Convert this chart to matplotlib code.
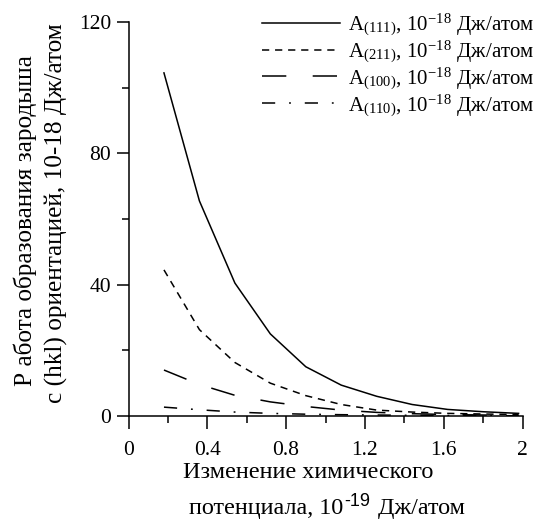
import matplotlib
matplotlib.use("Agg")
import matplotlib.pyplot as plt
from matplotlib.ticker import MultipleLocator

plt.rcParams['font.family'] = ['Liberation Serif', 'DejaVu Serif']
plt.rcParams['mathtext.fontset'] = 'stix'
plt.rcParams['lines.scale_dashes'] = False

x = [0.18, 0.36, 0.54, 0.72, 0.90, 1.08, 1.26, 1.44, 1.62, 1.80, 1.98]
a111 = [104.5, 65.5, 40.5, 25, 15, 9.4, 6.0, 3.5, 2.0, 1.3, 0.8]
a211 = [44.5, 26.3, 16.3, 10, 6.2, 3.5, 1.8, 1.2, 0.8, 0.6, 0.45]
a100 = [14, 9.6, 6.3, 4.3, 2.9, 1.8, 1.1, 0.7, 0.45, 0.3, 0.2]
a110 = [2.7, 1.9, 1.2, 0.8, 0.55, 0.4, 0.3, 0.2, 0.15, 0.1, 0.08]

labels = [r'A$_{\mathregular{(111)}}$, 10$^{\mathregular{-18}}$ Дж/атом',
          r'A$_{\mathregular{(211)}}$, 10$^{\mathregular{-18}}$ Дж/атом',
          r'A$_{\mathregular{(100)}}$, 10$^{\mathregular{-18}}$ Дж/атом',
          r'A$_{\mathregular{(110)}}$, 10$^{\mathregular{-18}}$ Дж/атом']
xticks = [0, 0.4, 0.8, 1.2, 1.6, 2.0]
xticklabels = ['0', '0.4', '0.8', '1.2', '1.6', '2']
yticks = [0, 40, 80, 120]
yticklabels = ['0', '40', '80', '120']

W, H = 538, 524
fig = plt.figure(figsize=(W / 100, H / 100), dpi=100)
L, R, T, B = 128.5, 522.5, 22, 416
ax = fig.add_axes([L / W, 1 - B / H, (R - L) / W, (B - T) / H])

lw = 1.1
ax.plot(x, a111, color='black', lw=lw, linestyle='-', label=labels[0])
ax.plot(x, a211, color='black', lw=lw, linestyle=(0, (5.2, 4.2)), label=labels[1])
ax.plot(x, a100, color='black', lw=lw, linestyle=(0, (17.5, 19)), label=labels[2])
ax.plot(x, a110, color='black', lw=lw, linestyle=(0, (9.5, 10, 1.3, 10)), label=labels[3])

ax.set_xlim(0, 2)
ax.set_ylim(0, 120)
ax.xaxis.set_minor_locator(MultipleLocator(0.2))
ax.yaxis.set_minor_locator(MultipleLocator(20))
ax.set_xticks(xticks)
ax.set_xticklabels(xticklabels)
ax.set_yticks(yticks)
ax.set_yticklabels(yticklabels)

for s in ['top', 'right']:
    ax.spines[s].set_visible(False)
for s in ['left', 'bottom']:
    ax.spines[s].set_linewidth(1.1)
ax.tick_params(axis='both', which='major', direction='out', length=9, width=1.1, labelsize=15.5)
ax.tick_params(axis='y', which='major', pad=3.5)
ax.tick_params(axis='x', which='major', pad=9)
ax.tick_params(axis='both', which='minor', direction='out', length=5, width=1.1)

# y label (two lines, placed separately)
fig.text(25 / W, 1 - 221 / H, 'Р абота образования зародыша', rotation=90,
         ha='center', va='center', fontsize=18.2)
fig.text(56 / W, 1 - 213 / H, 'с (hkl) ориентацией, 10-18 Дж/атом', rotation=90,
         ha='center', va='center', fontsize=18.2)

# x label
fig.text(308 / W, 1 - 478 / H, 'Изменение химического', ha='center', va='baseline', fontsize=17.4)
fig.canvas.draw()
r = fig.canvas.get_renderer()
base2 = 1 - 514 / H
p1 = fig.text(0, base2, 'потенциала, 10', ha='left', va='baseline', fontsize=17.4)
p2 = fig.text(0, base2 + 8 / H, '-19', ha='left', va='baseline', fontsize=13,
              family=['Liberation Sans', 'DejaVu Sans'])
p3 = fig.text(0, base2, '\u00a0Дж/атом', ha='left', va='baseline', fontsize=17.4)
w1 = p1.get_window_extent(r).width
w2 = p2.get_window_extent(r).width
w3 = p3.get_window_extent(r).width
start = 326 - (w1 + w2 + w3) / 2
p1.set_x(start / W)
p2.set_x((start + w1 + 1) / W)
p3.set_x((start + w1 + w2 + 2) / W)

leg = ax.legend(loc='upper left', bbox_to_anchor=(262 / W, 1 - 11 / H),
                bbox_transform=fig.transFigure, frameon=False, fontsize=15,
                handlelength=3.75, handletextpad=0.4, labelspacing=0.0,
                borderpad=0, borderaxespad=0)

fig.savefig('out.png', dpi=100)
